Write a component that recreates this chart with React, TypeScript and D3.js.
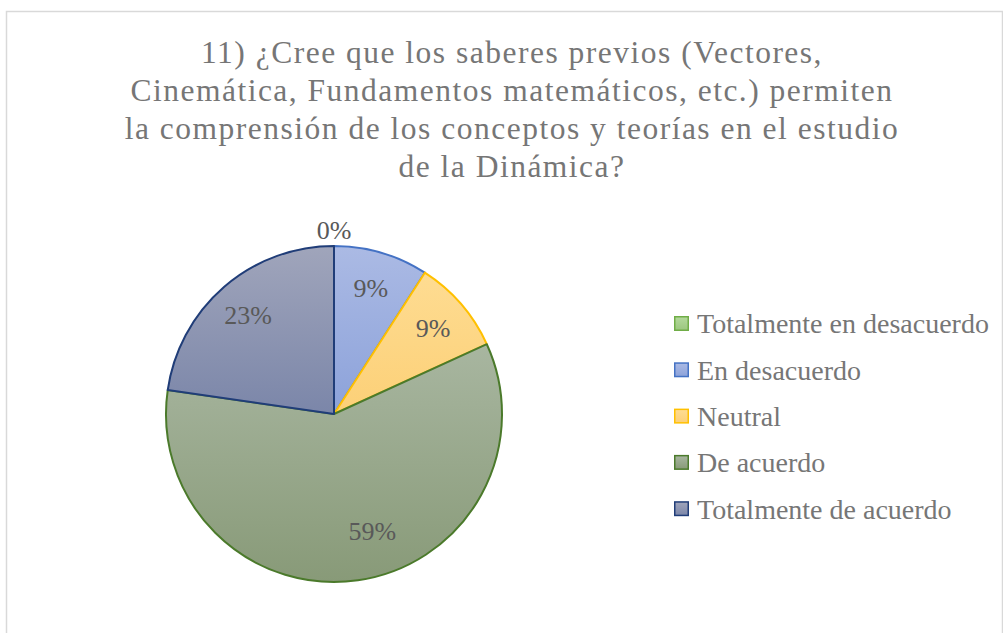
import React from "react";
import * as d3 from "d3";

const categories = [
  "Totalmente en desacuerdo",
  "En desacuerdo",
  "Neutral",
  "De acuerdo",
  "Totalmente de acuerdo",
];
const counts = [0, 2, 2, 13, 5];
const labels = ["0%", "9%", "9%", "59%", "23%"];

const fillTop = ["#b4d99c", "#abbae4", "#fedc92", "#a8b6a0", "#a0a5bb"];
const fillBottom = ["#9cc77f", "#8ca2da", "#fcd077", "#889a78", "#7b86a9"];
const strokes = ["#70ad47", "#4472c4", "#ffc000", "#4b7a2b", "#203d78"];

const title = [
  "11) ¿Cree que los saberes previos (Vectores,",
  "Cinemática, Fundamentos matemáticos, etc.) permiten",
  "la comprensión de los conceptos y teorías en el estudio",
  "de la Dinámica?",
];

const W = 1003;
const H = 633;
const cx = 334;
const cy = 414;
const R = 168;
const serif = "Liberation Serif, Tinos, Times New Roman, serif";

const App = () => {
  const pie = d3.pie<number>().sort(null).value((d) => d);
  const arcs = pie(counts);
  const arc = d3.arc<d3.PieArcDatum<number>>().innerRadius(0).outerRadius(R);
  const maxVal = d3.max(counts) || 0;

  // excel-ish label placement: inside the slice, a bit past the middle
  const labelPos = (a: d3.PieArcDatum<number>) => {
    if (a.value === 0) return [0, -R - 16];
    let ang = (a.startAngle + a.endAngle) / 2;
    let r = R * 0.78;
    if (a.value === maxVal) {
      ang -= (10 * Math.PI) / 180;
      r = R * 0.73;
    }
    return [Math.sin(ang) * r, -Math.cos(ang) * r];
  };

  return (
    <svg
      width={W}
      height={H}
      style={{ position: "absolute", left: 0, top: 0, background: "#fff", fontFamily: serif }}
    >
      <defs>
        {categories.map((c, i) => (
          <linearGradient key={c} id={`g${i}`} x1="0" y1="0" x2="0" y2="1">
            <stop offset="0" stopColor={fillTop[i]} />
            <stop offset="1" stopColor={fillBottom[i]} />
          </linearGradient>
        ))}
      </defs>
      <rect x={6.5} y={11.5} width={996} height={640} fill="#fff" stroke="#d9d9d9" strokeWidth={1.5} />

      {title.map((t, i) => (
        <text
          key={i}
          x={512}
          y={63 + i * 38}
          textAnchor="middle"
          fontSize={31.5}
          letterSpacing={1.5}
          fill="#767676"
        >
          {t}
        </text>
      ))}

      <g transform={`translate(${cx},${cy})`}>
        {arcs.map((a, i) =>
          a.value > 0 ? (
            <path
              key={i}
              d={arc(a) || ""}
              fill={`url(#g${i})`}
              stroke={strokes[i]}
              strokeWidth={2}
              strokeLinejoin="round"
            />
          ) : null
        )}
        {arcs.map((a, i) => {
          const [x, y] = labelPos(a);
          return (
            <text
              key={i}
              x={x}
              y={y}
              dy="0.35em"
              textAnchor="middle"
              fontSize={26}
              fill="#595959"
            >
              {labels[i]}
            </text>
          );
        })}
      </g>

      {categories.map((c, i) => (
        <g key={c} transform={`translate(674,${323.5 + i * 46.3})`}>
          <rect
            x={0.75}
            y={-6.75}
            width={13.5}
            height={13.5}
            fill={`url(#g${i})`}
            stroke={strokes[i]}
            strokeWidth={1.5}
          />
          <text x={23} y={0} dy="0.35em" fontSize={28} fill="#767676">
            {c}
          </text>
        </g>
      ))}
    </svg>
  );
};

export default App;
